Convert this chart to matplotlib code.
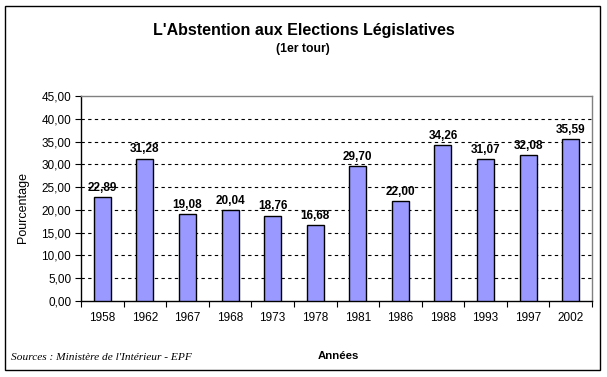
import matplotlib
matplotlib.use("Agg")
import matplotlib.pyplot as plt
from matplotlib.patches import Rectangle

years = ["1958", "1962", "1967", "1968", "1973", "1978", "1981", "1986", "1988", "1993", "1997", "2002"]
abstention = [22.89, 31.28, 19.08, 20.04, 18.76, 16.68, 29.70, 22.00, 34.26, 31.07, 32.08, 35.59]
yticks = [0, 5, 10, 15, 20, 25, 30, 35, 40, 45]

W, H = 607, 377
fig = plt.figure(figsize=(W / 100, H / 100), dpi=100)
fig.patch.set_facecolor("white")

# outer border
fig.patches.append(Rectangle((5 / W, 1 - 370 / H), 595 / W, 364 / H, transform=fig.transFigure,
                             fill=False, edgecolor="black", linewidth=1.0))

left, right, top, bottom = 81, 592, 96, 301
ax = fig.add_axes([left / W, 1 - bottom / H, (right - left) / W, (bottom - top) / H])

font = "Liberation Sans"
x = list(range(len(years)))
ax.bar(x, abstention, width=0.4, color="#9999ff", edgecolor="black", linewidth=1.0, zorder=3)

ax.set_xlim(-0.5, len(years) - 0.5)
ax.set_ylim(0, 45)
ax.set_yticks(yticks)
ax.set_yticklabels([f"{v:.2f}".replace(".", ",") for v in yticks], fontfamily=font, fontsize=8.5)
for v in yticks[1:-1]:
    ax.axhline(v, color="black", linestyle=(0, (3, 3)), linewidth=0.8, zorder=1)

ax.set_xticks([i + 0.5 for i in range(-1, len(years))], minor=False)
ax.set_xticklabels([])
ax.set_xticks(x, minor=True)
ax.set_xticklabels(years, minor=True, fontfamily=font, fontsize=8.5)
ax.tick_params(axis="x", which="major", direction="out", length=4, width=0.8, color="black")
ax.tick_params(axis="x", which="minor", length=0, pad=8)
ax.tick_params(axis="y", direction="out", length=4, width=0.8, pad=3)

for s in ["left", "bottom"]:
    ax.spines[s].set_color("black")
    ax.spines[s].set_linewidth(1.0)
for s in ["top", "right"]:
    ax.spines[s].set_color("#808080")
    ax.spines[s].set_linewidth(1.0)

for xi, v in zip(x, abstention):
    ax.text(xi, v + 0.7, f"{v:.2f}".replace(".", ","), ha="center", va="bottom",
            fontfamily=font, fontsize=8.5, fontweight="bold", zorder=4)

fig.text(304 / W, 1 - 30 / H, "L'Abstention aux Elections Législatives", ha="center", va="center",
         fontfamily=font, fontsize=11.5, fontweight="bold")
fig.text(303 / W, 1 - 49 / H, "(1er tour)", ha="center", va="center",
         fontfamily=font, fontsize=8.8, fontweight="bold")
fig.text(23 / W, 1 - 207 / H, "Pourcentage", rotation=90, ha="center", va="center",
         fontfamily=font, fontsize=9)
fig.text(338 / W, 1 - 356 / H, "Années", ha="center", va="center",
         fontfamily=font, fontsize=8.2, fontweight="bold")
fig.text(11 / W, 1 - 357 / H, "Sources : Ministère de l'Intérieur - EPF", ha="left", va="center",
         fontfamily="Liberation Serif", fontsize=8.2, fontstyle="italic")

fig.savefig("out.png", dpi=100, facecolor="white")
